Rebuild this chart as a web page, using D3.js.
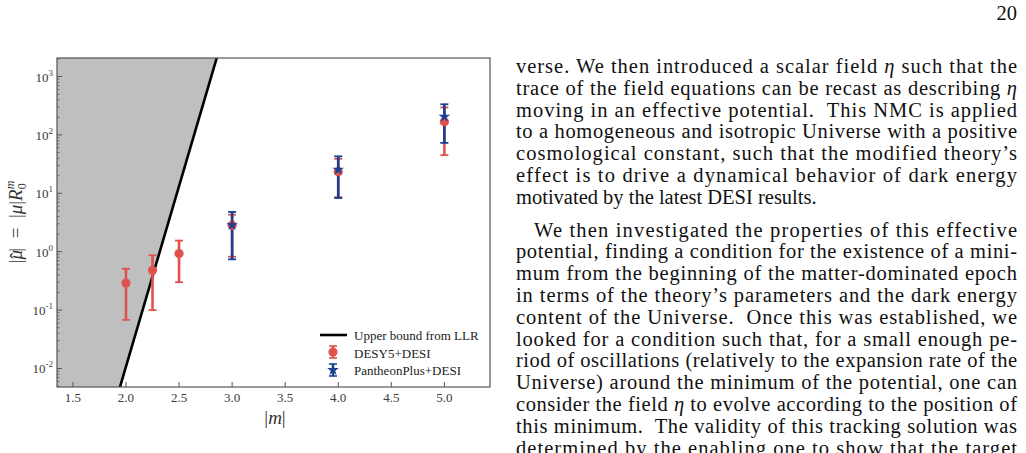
<!DOCTYPE html>
<html lang="en">
<head>
  <meta charset="UTF-8" />
  <title>Upper bound from LLR vs data</title>
  <script src="https://d3js.org/d3.v7.min.js"></script>
  <style>
    body { margin: 0; background: #fff; }
    svg { display: block; }
    .tick-label { font-family: "Liberation Serif", serif; font-size: 13px; fill: #3a3a3a; }
    .legend-text { font-family: "Liberation Serif", serif; font-size: 13px; fill: #222; }
    .axis-title { font-family: "Liberation Serif", serif; font-size: 19px; fill: #333; }
    .page { font-family: "Liberation Serif", serif; font-size: 20.5px; fill: #111; }
  </style>
</head>
<body>
  <svg id="page" width="1026" height="453"></svg>
  <script>
    // LLR bound (straight line in log space)
    const lineM = [1.9, 2.9];
    const lineMu = [0.0026, 3940];

    // DESY5+DESI
    const desM = [2.0, 2.25, 2.5, 3.0, 4.0, 5.0];
    const desMu = [0.29, 0.48, 0.93, 2.85, 23.5, 168];
    const desLo = [0.068, 0.10, 0.30, 0.82, 8.6, 45];
    const desHi = [0.51, 0.87, 1.55, 4.3, 39, 295];

    // PantheonPlus+DESI
    const panM = [3.0, 4.0, 5.0];
    const panMu = [2.85, 25.5, 205];
    const panLo = [0.74, 8.3, 73];
    const panHi = [4.8, 43, 335];

    const xTicks = [1.5, 2.0, 2.5, 3.0, 3.5, 4.0, 4.5, 5.0];
    const yExps = [-2, -1, 0, 1, 2, 3];
    const legendLabels = ["Upper bound from LLR", "DESY5+DESI", "PantheonPlus+DESI"];

    const svg = d3.select("#page");
    const pLeft = 57, pRight = 490, pTop = 58, pBottom = 387;
    const red = "#e0524e", blue = "#1b3f91";

    const x = d3.scaleLinear().domain([1.35, 5.43]).range([pLeft, pRight]);
    const y = d3.scaleLog().domain([Math.pow(10, -2.317), Math.pow(10, 3.317)]).range([pBottom, pTop]);

    svg.append("clipPath").attr("id", "plotclip")
      .append("rect").attr("x", pLeft).attr("y", pTop)
      .attr("width", pRight - pLeft).attr("height", pBottom - pTop);

    const plot = svg.append("g").attr("clip-path", "url(#plotclip)");
    const bound = lineM.map((m, i) => ({ m, mu: lineMu[i] }));

    // excluded region, left of the bound
    plot.append("path")
      .datum(bound)
      .attr("fill", "#bfbfbf")
      .attr("d", d3.area().x0(pLeft).x1(d => x(d.m)).y(d => y(d.mu)));

    plot.append("path")
      .datum(bound)
      .attr("fill", "none")
      .attr("stroke", "#000")
      .attr("stroke-width", 2.6)
      .attr("d", d3.line().x(d => x(d.m)).y(d => y(d.mu)));

    const des = desM.map((m, i) => ({ m, mu: desMu[i], lo: desLo[i], hi: desHi[i] }));
    const pan = panM.map((m, i) => ({ m, mu: panMu[i], lo: panLo[i], hi: panHi[i] }));

    function errorBars(data, color) {
      const g = plot.append("g").attr("stroke", color).attr("stroke-width", 2.6);
      data.forEach(d => {
        const cx = x(d.m);
        g.append("line").attr("x1", cx).attr("x2", cx).attr("y1", y(d.lo)).attr("y2", y(d.hi));
        [d.lo, d.hi].forEach(v => {
          g.append("line").attr("x1", cx - 4).attr("x2", cx + 4).attr("y1", y(v)).attr("y2", y(v))
            .attr("stroke-width", 1.8);
        });
      });
    }
    errorBars(des, red);
    errorBars(pan, blue);

    plot.append("g").selectAll("circle")
      .data(des).join("circle")
      .attr("cx", d => x(d.m)).attr("cy", d => y(d.mu)).attr("r", 4.6)
      .attr("fill", red);

    const star = d3.symbol().type(d3.symbolStar).size(42);
    plot.append("g").selectAll("path")
      .data(pan).join("path")
      .attr("transform", d => `translate(${x(d.m)},${y(d.mu)})`)
      .attr("d", star)
      .attr("fill", blue);

    // frame
    svg.append("rect")
      .attr("x", pLeft).attr("y", pTop).attr("width", pRight - pLeft).attr("height", pBottom - pTop)
      .attr("fill", "none").attr("stroke", "#555").attr("stroke-width", 1.2);

    // x ticks (inward)
    const xt = svg.append("g");
    xTicks.forEach(t => {
      xt.append("line").attr("x1", x(t)).attr("x2", x(t)).attr("y1", pBottom).attr("y2", pBottom - 5)
        .attr("stroke", "#555").attr("stroke-width", 1);
      xt.append("text").attr("class", "tick-label")
        .attr("x", x(t)).attr("y", pBottom + 15).attr("text-anchor", "middle")
        .text(t.toFixed(1));
    });

    // y ticks, major and minor (inward)
    const yt = svg.append("g");
    const [ymin, ymax] = y.domain();
    d3.range(-3, 4).forEach(e => {
      d3.range(2, 10).forEach(k => {
        const v = k * Math.pow(10, e);
        if (v < ymin || v > ymax) return;
        yt.append("line").attr("x1", pLeft).attr("x2", pLeft + 2.5).attr("y1", y(v)).attr("y2", y(v))
          .attr("stroke", "#555").attr("stroke-width", 0.8);
      });
    });
    yExps.forEach(e => {
      const v = Math.pow(10, e);
      yt.append("line").attr("x1", pLeft).attr("x2", pLeft + 5).attr("y1", y(v)).attr("y2", y(v))
        .attr("stroke", "#555").attr("stroke-width", 1);
      const lab = yt.append("text").attr("class", "tick-label")
        .attr("x", pLeft - 4).attr("y", y(v) + 5).attr("text-anchor", "end");
      lab.append("tspan").text("10");
      lab.append("tspan").attr("dy", -6).attr("font-size", "9px").text(e);
    });

    // axis titles
    const xl = svg.append("text").attr("class", "axis-title")
      .attr("x", 275).attr("y", 424).attr("text-anchor", "middle");
    xl.append("tspan").text("|");
    xl.append("tspan").attr("font-style", "italic").text("m");
    xl.append("tspan").text("|");

    const yl = svg.append("text").attr("class", "axis-title")
      .attr("transform", "translate(22,222) rotate(-90)").attr("text-anchor", "middle")
      .attr("xml:space", "preserve");
    yl.append("tspan").text("|");
    yl.append("tspan").attr("font-style", "italic").text("\u03bc");
    yl.append("tspan").attr("dx", -9).attr("dy", 1).text("\u02c6");
    yl.append("tspan").attr("dx", 1).attr("dy", -1).text("|  =  |");
    yl.append("tspan").attr("font-style", "italic").text("\u03bc");
    yl.append("tspan").text("|");
    yl.append("tspan").attr("font-style", "italic").text("R");
    yl.append("tspan").attr("dy", 4).attr("font-size", "12px").text("0");
    yl.append("tspan").attr("dy", -12).attr("dx", -6).attr("font-size", "12px").attr("font-style", "italic").text("m");

    // legend
    const lg = svg.append("g");
    lg.append("line").attr("x1", 320).attr("x2", 347).attr("y1", 335).attr("y2", 335)
      .attr("stroke", "#000").attr("stroke-width", 2.6);
    [[red, 352], [blue, 370]].forEach(([c, ly], i) => {
      lg.append("line").attr("x1", 333).attr("x2", 333).attr("y1", ly - 6).attr("y2", ly + 6)
        .attr("stroke", c).attr("stroke-width", 2.4);
      [ly - 6, ly + 6].forEach(cy => lg.append("line").attr("x1", 329).attr("x2", 337)
        .attr("y1", cy).attr("y2", cy).attr("stroke", c).attr("stroke-width", 1.6));
      if (i === 0) lg.append("circle").attr("cx", 333).attr("cy", ly).attr("r", 4.6).attr("fill", c);
      else lg.append("path").attr("transform", `translate(333,${ly})`).attr("d", star).attr("fill", c);
    });
    legendLabels.forEach((t, i) => {
      lg.append("text").attr("class", "legend-text")
        .attr("x", 354).attr("y", 340 + i * 17.5).text(t);
    });

    // page text to the right of the figure
    const pageLines = [
      ["verse. We then introduced a scalar field ", ["η"], " such that the"],
      ["trace of the field equations can be recast as describing ", ["η"]],
      ["moving in an effective potential.  This NMC is applied"],
      ["to a homogeneous and isotropic Universe with a positive"],
      ["cosmological constant, such that the modified theory\u2019s"],
      ["effect is to drive a dynamical behavior of dark energy"],
      ["motivated by the latest DESI results."],
      ["We then investigated the properties of this effective"],
      ["potential, finding a condition for the existence of a mini-"],
      ["mum from the beginning of the matter-dominated epoch"],
      ["in terms of the theory\u2019s parameters and the dark energy"],
      ["content of the Universe.  Once this was established, we"],
      ["looked for a condition such that, for a small enough pe-"],
      ["riod of oscillations (relatively to the expansion rate of the"],
      ["Universe) around the minimum of the potential, one can"],
      ["consider the field ", ["η"], " to evolve according to the position of"],
      ["this minimum.  The validity of this tracking solution was"],
      ["determined by the enabling one to show that the target"]
    ];
    const textLeft = 516, textRight = 1017, pitch = 21.8;
    pageLines.forEach((parts, i) => {
      const indent = i === 7 ? 18 : 0;
      const baseY = 73 + i * pitch + (i >= 7 ? 11 : 0);
      const t = svg.append("text").attr("class", "page")
        .attr("x", textLeft + indent).attr("y", baseY)
        .attr("xml:space", "preserve");
      if (i !== 6) t.attr("textLength", textRight - textLeft - indent).attr("lengthAdjust", "spacing");
      parts.forEach(p => {
        if (Array.isArray(p)) t.append("tspan").attr("font-style", "italic").text(p[0]);
        else t.append("tspan").text(p);
      });
    });

    svg.append("text").attr("class", "page")
      .attr("x", textRight).attr("y", 20).attr("text-anchor", "end").text("20");
  </script>
</body>
</html>
